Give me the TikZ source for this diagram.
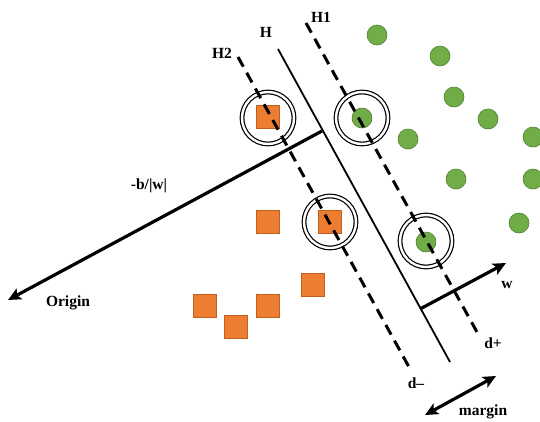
\documentclass[tikz,border=0pt]{standalone}
\usepackage{fontspec}
\setmainfont{Liberation Serif}
\usetikzlibrary{arrows.meta}

\definecolor{sqfill}{HTML}{ED7D31}
\definecolor{sqedge}{HTML}{C0601E}
\definecolor{ptfill}{HTML}{70AD47}
\definecolor{ptedge}{HTML}{507E32}

\tikzset{
  negsq/.style={rectangle, draw=sqedge, fill=sqfill, line width=0.6pt,
    minimum size=22.5pt, inner sep=0pt},
  posdot/.style={circle, draw=ptedge, fill=ptfill, line width=0.6pt,
    minimum size=20pt, inner sep=0pt},
  support/.style={circle, draw=black, line width=1.2pt, double=white,
    double distance=2.4pt, minimum size=52pt, inner sep=0pt},
  hyper/.style={line width=1.8pt},
  margline/.style={line width=3pt, dash pattern=on 11pt off 7pt},
  vec/.style={line width=3.2pt, -{Stealth[length=13pt,width=12pt,inset=3pt]}},
  lbl/.style={font=\fontsize{15.5}{18}\selectfont\bfseries, inner sep=0pt}
}

\begin{document}
\begin{tikzpicture}[x=1pt,y=-1pt]
\useasboundingbox (0,0) rectangle (540,421);

% end points of the three parallel lines
\coordinate (Ha) at (278,49);   \coordinate (Hb) at (450,362);
\coordinate (H2a) at (238,57);  \coordinate (H2b) at (409,367);
\coordinate (H1a) at (306,23);  \coordinate (H1b) at (477,332);

% class -1 samples
\node[negsq] (s1) at (268,117) {};
\node[negsq] (s2) at (268,222) {};
\node[negsq] (s3) at (330,222) {};
\node[negsq] (s4) at (313,285) {};
\node[negsq] (s5) at (205,306) {};
\node[negsq] (s6) at (268,306) {};
\node[negsq] (s7) at (236,327) {};

% class +1 samples
\node[posdot] (p1) at (377,35) {};
\node[posdot] (p2) at (440,56) {};
\node[posdot] (p3) at (454,97) {};
\node[posdot] (p4) at (488,119) {};
\node[posdot] (p5) at (362,118) {};
\node[posdot] (p6) at (408,139) {};
\node[posdot] (p7) at (533,137) {};
\node[posdot] (p8) at (456,179) {};
\node[posdot] (p9) at (533,179) {};
\node[posdot] (p10) at (519,223) {};
\node[posdot] (p11) at (426,242) {};

% support vectors
\node[support] (c1) at (268,118) {};
\node[support] (c2) at (362,118) {};
\node[support] (c3) at (330,222) {};
\node[support] (c4) at (426,241) {};

% hyperplane and margin boundaries
\draw[hyper] (Ha) -- (Hb);
\draw[margline] (H2a) -- (H2b);
\draw[margline] (H1a) -- (H1b);

% offset from the origin
\coordinate (foot) at (322,131);
\coordinate (origin) at (8,300);
\draw[vec] (foot) -- (origin);

% normal vector
\coordinate (wbase) at (420,309);
\coordinate (wtip) at (506,263);
\draw[vec] (wbase) -- (wtip);

% margin width
\coordinate (m1) at (425,415);
\coordinate (m2) at (496,376);
\draw[vec, {Stealth[length=13pt,width=12pt,inset=3pt]}-{Stealth[length=13pt,width=12pt,inset=3pt]}] (m1) -- (m2);

% labels
\node[lbl] (lH2) at (222,53) {H2};
\node[lbl] (lH) at (266,32) {H};
\node[lbl] (lH1) at (321,17) {H1};
\node[lbl] (lb) at (149,186) {-b/|w|};
\node[lbl] (lorig) at (68,303) {Origin};
\node[lbl] (lw) at (507,285) {w};
\node[lbl] (ldp) at (493,343) {d+};
\node[lbl] (ldm) at (416,383) {d–};
\node[lbl] (lmarg) at (483,412) {margin};
\end{tikzpicture}
\end{document}
